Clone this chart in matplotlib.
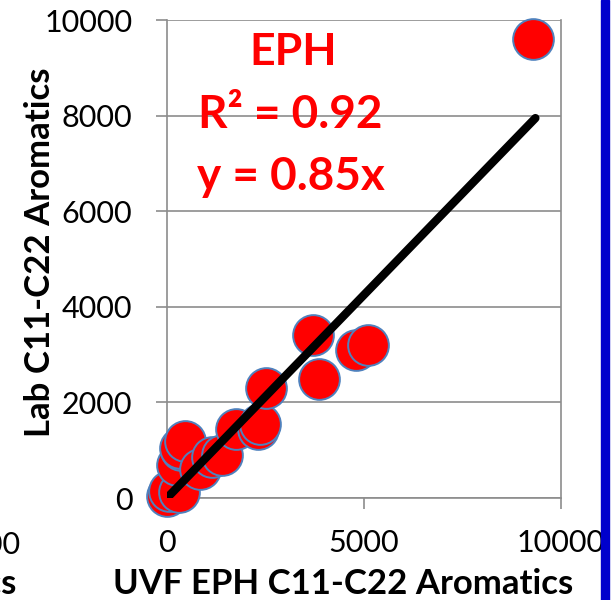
import matplotlib
matplotlib.use('Agg')
import matplotlib.pyplot as plt
from matplotlib.patches import Rectangle

plt.rcParams['font.family'] = ['Lato', 'DejaVu Sans']

# UVF vs lab values
uvf = [0, 60, 300, 250, 350, 330, 460, 850, 1150, 1400, 1750, 2300, 2350, 2500, 3700, 3850, 4800, 5100, 9300]
lab = [40, 150, 130, 700, 1000, 1050, 1200, 600, 850, 900, 1450, 1450, 1550, 2300, 3400, 2500, 3100, 3200, 9600]
slope = 0.85
fit_x = [0, 9350]
fit_y = [slope * v for v in fit_x]

xticks = [0, 5000, 10000]
yticks = [0, 2000, 4000, 6000, 8000, 10000]

W, H = 611, 600
fig = plt.figure(figsize=(W / 100, H / 100), dpi=100)
ax = fig.add_axes([167 / W, 1 - 498 / H, (561 - 167) / W, (498 - 20) / H])

grey = '#8c8c8c'
ax.set_xlim(0, 10000)
ax.set_ylim(0, 10000)
ax.set_xticks(xticks)
ax.set_yticks(yticks)
ax.yaxis.grid(True, color=grey, lw=1.2)
ax.set_axisbelow(True)
for s in ['left', 'bottom', 'right']:
    ax.spines[s].set_color(grey)
    ax.spines[s].set_linewidth(1.2)
ax.spines['top'].set_visible(False)
ax.tick_params(axis='both', direction='out', length=8, width=1.2, color=grey, labelsize=22)
ax.tick_params(axis='x', pad=14)
ax.tick_params(axis='y', pad=17)

ax.scatter(uvf, lab, s=860, c='#ff0000', edgecolors='#4f81bd', linewidths=1.4, zorder=3, clip_on=False)
ax.plot(fit_x, fit_y, color='black', lw=6, solid_capstyle='round', zorder=4)

# axis titles placed in figure pixels
fig.text(343 / W, 1 - 594 / H, 'UVF EPH C11-C22 Aromatics', fontsize=25, fontweight='bold',
         ha='center', va='baseline')
fig.text(40 / W, 1 - 252 / H, 'Lab C11-C22 Aromatics', fontsize=25, fontweight='bold',
         ha='center', va='center', rotation=90)

red = '#ff0000'
fig.text(293 / W, 1 - 65 / H, 'EPH', color=red, fontsize=32, fontweight='bold', ha='center', va='baseline')
fig.text(290 / W, 1 - 128 / H, 'R² = 0.92', color=red, fontsize=33, fontweight='bold', ha='center', va='baseline')
fig.text(291 / W, 1 - 190 / H, 'y = 0.85x', color=red, fontsize=33, fontweight='bold', ha='center', va='baseline')

# bits of the neighbouring chart and slide border
fig.text(21 / W, 1 - 545 / H, '10000', fontsize=22, ha='right', va='center')
fig.text(17 / W, 1 - 594 / H, 'Aromatics', fontsize=25, fontweight='bold', ha='right', va='baseline')
fig.patches.append(Rectangle((601 / W, 0), 8 / W, 1, transform=fig.transFigure, color='#0000cc'))

fig.savefig('out.png', dpi=100)
